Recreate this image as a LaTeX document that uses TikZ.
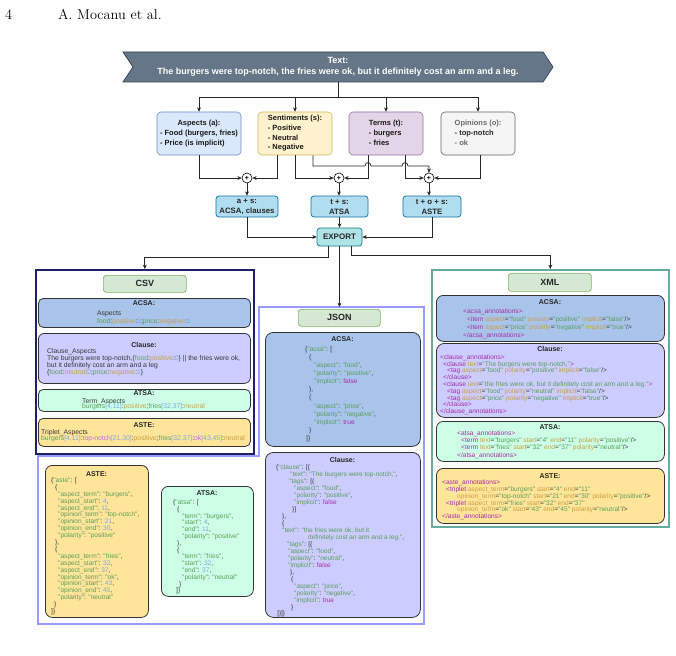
\documentclass[tikz,border=0pt]{standalone}
\usepackage{fontspec}
\usetikzlibrary{arrows.meta}
\newfontfamily\hv{Liberation Sans}
\newcommand\cfs[2]{\fontsize{#1}{#2}\selectfont\lineskiplimit=-6pt\relax}
\definecolor{cban}{HTML}{647687}
\definecolor{cbanD}{HTML}{314354}
\definecolor{aspF}{HTML}{DAE8FC}\definecolor{aspD}{HTML}{6C8EBF}
\definecolor{senF}{HTML}{FFF2CC}\definecolor{senD}{HTML}{D6B656}
\definecolor{terF}{HTML}{E1D5E7}\definecolor{terD}{HTML}{9673A6}
\definecolor{opiF}{HTML}{F5F5F5}\definecolor{opiD}{HTML}{666666}
\definecolor{tskF}{HTML}{B1DDF0}\definecolor{tskD}{HTML}{10739E}
\definecolor{expF}{HTML}{B0E3E6}\definecolor{expD}{HTML}{0E8088}
\definecolor{lblF}{HTML}{D5E8D4}\definecolor{lblD}{HTML}{82B366}
\definecolor{cnavy}{RGB}{32,32,105}
\definecolor{cjson}{RGB}{155,155,255}
\definecolor{cxml}{HTML}{67AB9F}
\definecolor{bAcsa}{HTML}{A9C4EB}
\definecolor{bCl}{HTML}{CCCCFF}
\definecolor{bAtsa}{HTML}{CCFFE6}
\definecolor{bAste}{HTML}{FFE599}
\definecolor{cgr}{RGB}{90,158,90}
\definecolor{ctan}{RGB}{200,160,70}
\definecolor{cblu}{RGB}{126,166,224}
\definecolor{cpur}{RGB}{185,105,235}
\definecolor{cmag}{RGB}{165,45,165}
\definecolor{cdk}{RGB}{55,55,55}
\definecolor{cgry}{RGB}{105,105,105}
\newcommand\csvg[1]{\textcolor{cgr}{#1}}
\newcommand\csvt[1]{\textcolor{ctan}{#1}}
\newcommand\csvb[1]{\textcolor{cblu}{#1}}
\newcommand\csvp[1]{\textcolor{cpur}{#1}}
\newcommand\jstr[1]{\textcolor{cgr}{"#1"}}
\newcommand\jnum[1]{\textcolor{cblu}{#1}}
\newcommand\jbool[1]{\textcolor{cmag}{#1}}
\newcommand\xtag[1]{\textcolor{cmag}{#1}}
\newcommand\xatt[1]{\textcolor{ctan}{#1}}
\newcommand\xval[1]{\textcolor{cgr}{"#1"}}
\newcommand\ind[1]{\hspace*{#1pt}}
\begin{document}
\begin{tikzpicture}[x=1pt,y=-1pt,
  ln/.style={draw=black!85, line width=0.75pt},
  arr/.style={draw=black!85, line width=0.75pt, -{Stealth[length=4.2pt,width=3.8pt,inset=1.2pt]}},
  topbox/.style={draw, rounded corners=4pt, line width=0.6pt, minimum height=43pt, inner sep=0pt, text=black!90, font=\hv\bfseries\fontsize{7.5}{9.7}\selectfont},
  taskbox/.style={draw=tskD, fill=tskF, rounded corners=3pt, line width=0.7pt, minimum height=21pt, align=center, inner sep=0pt, text=black!85, font=\hv\bfseries\fontsize{7.8}{10}\selectfont},
  plusc/.style={circle, draw, fill=white, minimum size=10pt, inner sep=0pt, line width=0.6pt, font=\hv\bfseries\fontsize{7}{7}\selectfont},
  ibox/.style={draw=black!80, line width=0.8pt, rounded corners=6pt, anchor=north west, inner sep=0pt},
  lbl/.style={draw=lblD, fill=lblF, rounded corners=3pt, line width=0.7pt, anchor=north west, inner sep=0pt, text=black!85, font=\hv\bfseries\fontsize{9}{10}\selectfont},
  ttl/.style={font=\hv\bfseries\fontsize{7}{8}\selectfont, inner sep=0pt, text=black!85},
  code/.style={anchor=north west, inner sep=0pt, align=left, text=cdk}]
\useasboundingbox (0,0) rectangle (676,655);
\fill[white] (0,0) rectangle (676,655);
% header
\node[anchor=base west, inner sep=0pt, font=\fontsize{14.3}{17}\selectfont] (pg) at (5,19.5) {4};
\node[anchor=base west, inner sep=0pt, font=\fontsize{14.3}{17}\selectfont] (au) at (58,19.5) {A. Mocanu et al.};
% banner
\filldraw[fill=cban, draw=cbanD, line width=0.7pt] (123,52) -- (543,52) -- (553,67) -- (543,82) -- (123,82) -- (133,67) -- cycle;
\node[align=center, text=white, inner sep=0pt, font=\hv\bfseries\fontsize{9}{11}\selectfont] (ban) at (338,67) {Text:\\The burgers were top-notch, the fries were ok, but it definitely cost an arm and a leg.};
\coordinate (bs) at (338,82);
% top boxes
\node[topbox, fill=aspF, draw=aspD, minimum width=84pt] (asp) at (199,133.5) {\begin{tabular}{@{}l@{}}\multicolumn{1}{@{}c@{}}{Aspects (a):}\\- Food (burgers, fries)\\- Price (is implicit)\end{tabular}};
\node[topbox, fill=senF, draw=senD, minimum width=74pt] (sen) at (295,133.5) {\begin{tabular}{@{}l@{}}\multicolumn{1}{@{}c@{}}{Sentiments (s):}\\- Positive\\- Neutral\\- Negative\end{tabular}};
\node[topbox, fill=terF, draw=terD, minimum width=74pt] (ter) at (386,133.5) {\begin{tabular}{@{}l@{}}\multicolumn{1}{@{}c@{}}{Terms (t):}\\- burgers\\- fries\end{tabular}};
\node[topbox, fill=opiF, draw=opiD, minimum width=74pt] (opi) at (478,133.5) {\begin{tabular}{@{}l@{}}\multicolumn{1}{@{}c@{}}{\textcolor{cgry}{Opinions (o):}}\\\textcolor{black!85}{- top-notch}\\\textcolor{cgry}{- ok}\end{tabular}};
\draw[ln] (bs) -- ++(0,15) coordinate (bj);
\draw[ln] (bj -| asp.north) -- (bj -| opi.north);
\foreach \n in {asp,sen,ter,opi} \draw[arr] (bj -| \n.north) -- (\n.north);
% plus circles
\node[plusc] (c1) at (247,178) {+};
\node[plusc] (c2) at (339,178) {+};
\node[plusc] (c3) at (429,178) {+};
\draw[arr] (asp.south) |- (c1.west);
\draw[arr] ([xshift=-18pt]sen.south) |- (c1.east);
\draw[arr] (sen.south) |- (c2.west);
\draw[arr] ([xshift=18pt]sen.south) |- (365,166) .. controls (365,161.5) and (371,161.5) .. (371,166) -- (402,166) .. controls (402,161.5) and (408,161.5) .. (408,166) -- (429,166) -- (c3.north);
\draw[arr] ([xshift=-18pt]ter.south) |- (c2.east);
\draw[arr] ([xshift=19pt]ter.south) |- (c3.west);
\draw[arr] ([xshift=2pt]opi.south) |- (c3.east);
% task boxes
\node[taskbox, minimum width=62pt] (t1) at (247,206.5) {a + s:\\ACSA, clauses};
\node[taskbox, minimum width=57pt] (t2) at (339.5,206.5) {t + s:\\ATSA};
\node[taskbox, minimum width=58pt] (t3) at (432,206.5) {t + o + s:\\ASTE};
\draw[arr] (c1.south) -- (c1.south |- t1.north);
\draw[arr] (c2.south) -- (c2.south |- t2.north);
\draw[arr] (c3.south) -- (c3.south |- t3.north);
\node[draw=expD, fill=expF, rounded corners=3pt, line width=0.7pt, minimum width=45pt, minimum height=18pt, inner sep=0pt, text=black!85, font=\hv\bfseries\fontsize{8}{9}\selectfont] (exp) at (339.5,237) {EXPORT};
\draw[arr] (t2.south) -- (exp.north);
\draw[arr] (t1.south) |- (exp.west);
\draw[arr] (t3.south) |- (exp.east);
% containers
\node[draw=cnavy, line width=1.6pt, minimum width=218pt, minimum height=184pt, anchor=north west, inner sep=0pt] (csv) at (35,269) {};
\node[draw=cxml, line width=1.6pt, minimum width=237pt, minimum height=257pt, anchor=north west, inner sep=0pt] (xml) at (431,269) {};
\draw[draw=cjson, line width=1.6pt] (259,307) -- (424,307) -- (424,624) -- (38,624) -- (38,456) -- (259,456) -- cycle;
\coordinate (jtop) at (339.5,307);
\draw[arr] ([xshift=-11.5pt]exp.south) -- ++(0,11) -| (csv.north);
\draw[arr] (exp.south) -- (exp.south |- jtop);
\draw[arr] ([xshift=11.5pt]exp.south) -- ++(0,9) -| (xml.north);
% labels
\node[lbl, minimum width=83pt, minimum height=17pt] (lcsv) at (103,275) {CSV};
\node[lbl, minimum width=82pt, minimum height=17pt] (ljson) at (298,309) {JSON};
\node[lbl, minimum width=83pt, minimum height=18pt] (lxml) at (508,273) {XML};
% ================= CSV
\node[ibox, fill=bAcsa, rounded corners=5pt, minimum width=212pt, minimum height=29pt] (csvacsa) at (38,298) {};
\node[ibox, fill=bCl, minimum width=212pt, minimum height=50pt] (csvcl) at (38,333) {};
\node[ibox, fill=bAtsa, rounded corners=5pt, minimum width=212pt, minimum height=22pt] (csvatsa) at (38,389) {};
\node[ibox, fill=bAste, rounded corners=5pt, minimum width=212pt, minimum height=28pt] (csvaste) at (38,418) {};
\node[ttl] (tcsv1) at (144,303.3) {ACSA:};
\node[ttl] (tcsv2) at (144,345) {Clause:};
\node[ttl] (tcsv3) at (144,393.3) {ATSA:};
\node[ttl] (tcsv4) at (144,425) {ASTE:};
\node[code, font=\hv\cfs{6.8}{8}] (xcsv1) at (97,310.4) {Aspects\\\csvg{food}:\csvt{positive}:\csvb{0};\csvg{price}:\csvt{negative}:\csvb{1}};
\node[code, font=\hv\cfs{6.8}{7}] (xcsv2) at (47,348.4) {Clause\_Aspects\\The burgers were top-notch,\{\csvg{food}:\csvt{positive}:\csvb{0}\} || the fries were ok,\\but it definitely cost an arm and a leg\\\{\csvg{food}:\csvt{neutral}:\csvb{0};\csvg{price}:\csvt{negative}:\csvb{1}\}};
\node[code, font=\hv\cfs{6.8}{5.7}] (xcsv3) at (82,398.4) {Term\_Aspects\\\csvg{burgers}\csvb{[4,11]}:\csvt{positive};\csvg{fries}\csvb{[32,37]}:\csvt{neutral}};
\node[code, font=\hv\cfs{6.8}{6}] (xcsv4) at (41,429.4) {Triplet\_Aspects\\\csvg{burgers}\csvb{[4,11]}:\csvp{top-notch}\csvb{[21,30]}:\csvt{positive};\csvg{fries}\csvb{[32,37]}:\csvp{ok}\csvb{[43,45]}:\csvt{neutral}};
% ================= JSON
\node[ibox, fill=bAcsa, rounded corners=8pt, minimum width=155pt, minimum height=114pt] (jacsa) at (265,332) {};
\node[ibox, fill=bCl, rounded corners=8pt, minimum width=155pt, minimum height=165pt] (jcl) at (265,452) {};
\node[ibox, fill=bAste, rounded corners=7pt, minimum width=103pt, minimum height=152pt] (jaste) at (45,465) {};
\node[ibox, fill=bAtsa, rounded corners=7pt, minimum width=92pt, minimum height=110pt] (jatsa) at (161,486) {};
\node[ttl] (tj1) at (342.5,339.3) {ACSA:};
\node[ttl] (tj2) at (342.5,460) {Clause:};
\node[ttl] (tj3) at (96.5,474) {ASTE:};
\node[ttl] (tj4) at (207,493.3) {ATSA:};
\node[code, font=\hv\cfs{6.6}{8.1}] (xj1) at (305,346.4) {\{\jstr{acsa}: [\\
\ind{4}\{\\
\ind{9}\jstr{aspect}: \jstr{food},\\
\ind{9}\jstr{polarity}: \jstr{positive},\\
\ind{9}\jstr{implicit}: \jbool{false}\\
\ind{4}\},\\
\ind{4}\{\\
\ind{9}\jstr{aspect}: \jstr{price},\\
\ind{9}\jstr{polarity}: \jstr{negative},\\
\ind{9}\jstr{implicit}: \jbool{true}\\
\ind{4}\}\\
\ind{1}]\}};
\node[code, font=\hv\cfs{6.5}{6.98}] (xj2) at (276,464.5) {\{\jstr{clause}: [\{\\
\ind{14}\jstr{text}: \jstr{The burgers were top-notch,},\\
\ind{13}\jstr{tags}: [\{\\
\ind{18}\jstr{aspect}: \jstr{food},\\
\ind{18}\jstr{polarity}: \jstr{positive},\\
\ind{18}\jstr{implicit}: \jbool{false}\\
\ind{16}\}]\\
\ind{6}\},\\
\ind{6}\{\\
\ind{6}\jstr{text}: \textcolor{cgr}{"the fries were ok, but it}\\
\ind{32}\textcolor{cgr}{definitely cost an arm and a leg."},\\
\ind{11}\jstr{tags}: [\{\\
\ind{12}\jstr{aspect}: \jstr{food},\\
\ind{12}\jstr{polarity}: \jstr{neutral},\\
\ind{12}\jstr{implicit}: \jbool{false}\\
\ind{14}\},\\
\ind{15}\{\\
\ind{18}\jstr{aspect}: \jstr{price},\\
\ind{18}\jstr{polarity}: \jstr{negative},\\
\ind{18}\jstr{implicit}: \jbool{true}\\
\ind{15}\}\\
\ind{1}]\}]\}};
\node[code, font=\hv\cfs{6.6}{6.9}] (xj3) at (51,477.5) {\{\jstr{aste}: [\\
\ind{4}\{\\
\ind{7}\jstr{aspect\_term}: \jstr{burgers},\\
\ind{7}\jstr{aspect\_start}: \jnum{4},\\
\ind{7}\jstr{aspect\_end}: \jnum{11},\\
\ind{7}\jstr{opinion\_term}: \jstr{top-notch},\\
\ind{7}\jstr{opinion\_start}: \jnum{21},\\
\ind{7}\jstr{opinion\_end}: \jnum{30},\\
\ind{7}\jstr{polarity}: \jstr{positive}\\
\ind{4}\},\\
\ind{4}\{\\
\ind{7}\jstr{aspect\_term}: \jstr{fries},\\
\ind{7}\jstr{aspect\_start}: \jnum{32},\\
\ind{7}\jstr{aspect\_end}: \jnum{37},\\
\ind{7}\jstr{opinion\_term}: \jstr{ok},\\
\ind{7}\jstr{opinion\_start}: \jnum{43},\\
\ind{7}\jstr{opinion\_end}: \jnum{45},\\
\ind{7}\jstr{polarity}: \jstr{neutral}\\
\ind{3}\}\\
]\}};
\node[code, font=\hv\cfs{6.6}{6.8}] (xj4) at (173,499.5) {\{\jstr{atsa}: [\\
\ind{4}\{\\
\ind{9}\jstr{term}: \jstr{burgers},\\
\ind{9}\jstr{start}: \jnum{4},\\
\ind{9}\jstr{end}: \jnum{11},\\
\ind{9}\jstr{polarity}: \jstr{positive}\\
\ind{4}\},\\
\ind{4}\{\\
\ind{9}\jstr{term}: \jstr{fries},\\
\ind{9}\jstr{start}: \jnum{32},\\
\ind{9}\jstr{end}: \jnum{37},\\
\ind{9}\jstr{polarity}: \jstr{neutral}\\
\ind{6}\}\\
\ind{3}]\}};
% ================= XML
\node[ibox, fill=bAcsa, rounded corners=7pt, minimum width=228pt, minimum height=46pt] (xacsa) at (436,295) {};
\node[ibox, fill=bCl, rounded corners=8pt, minimum width=228pt, minimum height=74pt] (xcl) at (436,343) {};
\node[ibox, fill=bAtsa, rounded corners=7pt, minimum width=228pt, minimum height=40pt] (xatsa) at (436,421) {};
\node[ibox, fill=bAste, rounded corners=7pt, minimum width=228pt, minimum height=55pt] (xaste) at (436,468) {};
\node[ttl] (tx1) at (550,301.7) {ACSA:};
\node[ttl] (tx2) at (550,349.3) {Clause:};
\node[ttl] (tx3) at (550,426.7) {ATSA:};
\node[ttl] (tx4) at (550,475.7) {ASTE:};
\node[code, font=\hv\cfs{6.6}{8}] (xx1) at (463,308.4) {\xtag{<acsa\_annotations>}\\
\ind{4}\xtag{<item} \xatt{aspect}=\xval{food} \xatt{polarity}=\xval{positive} \xatt{implicit}=\xval{false}/>\\
\ind{4}\xtag{<item} \xatt{aspect}=\xval{price} \xatt{polarity}=\xval{negative} \xatt{implicit}=\xval{true}/>\\
\xtag{</acsa\_annotations>}};
\node[code, font=\hv\cfs{6.6}{6.8}] (xx2) at (440,354.4) {\xtag{<clause\_annotations>}\\
\ind{3}\xtag{<clause} \xatt{text}=\xval{The burgers were top-notch,}\xtag{>}\\
\ind{7}\xtag{<tag} \xatt{aspect}=\xval{food} \xatt{polarity}=\xval{positive} \xatt{implicit}=\xval{false}/>\\
\ind{3}\xtag{</clause>}\\
\ind{3}\xtag{<clause} \xatt{text}=\xval{the fries were ok, but it definitely cost an arm and a leg.}\xtag{>}\\
\ind{7}\xtag{<tag} \xatt{aspect}=\xval{food} \xatt{polarity}=\xval{neutral} \xatt{implicit}=\xval{false}/>\\
\ind{7}\xtag{<tag} \xatt{aspect}=\xval{price} \xatt{polarity}=\xval{negative} \xatt{implicit}=\xval{true}/>\\
\ind{3}\xtag{</clause>}\\
\xtag{</clause\_annotations>}};
\node[code, font=\hv\cfs{6.6}{7.3}] (xx3) at (457,430.4) {\xtag{<atsa\_annotations>}\\
\ind{4}\xtag{<term} \xatt{text}=\xval{burgers} \xatt{start}=\xval{4} \xatt{end}=\xval{11} \xatt{polarity}=\xval{positive}/>\\
\ind{4}\xtag{<term} \xatt{text}=\xval{fries} \xatt{start}=\xval{32} \xatt{end}=\xval{37} \xatt{polarity}=\xval{neutral}/>\\
\xtag{</atsa\_annotations>}};
\node[code, font=\hv\cfs{6.6}{6.9}] (xx4) at (442,479.4) {\xtag{<aste\_annotations>}\\
\ind{4}\xtag{<triplet} \xatt{aspect\_term}=\xval{burgers} \xatt{start}=\xval{4} \xatt{end}=\xval{11}\\
\ind{15}\xatt{opinion\_term}=\xval{top-notch} \xatt{start}=\xval{21} \xatt{end}=\xval{30} \xatt{polarity}=\xval{positive}/>\\
\ind{4}\xtag{<triplet} \xatt{aspect\_term}=\xval{fries} \xatt{start}=\xval{32} \xatt{end}=\xval{37}\\
\ind{15}\xatt{opinion\_term}=\xval{ok} \xatt{start}=\xval{43} \xatt{end}=\xval{45} \xatt{polarity}=\xval{neutral}/>\\
\xtag{</aste\_annotations>}};
\end{tikzpicture}
\end{document}
